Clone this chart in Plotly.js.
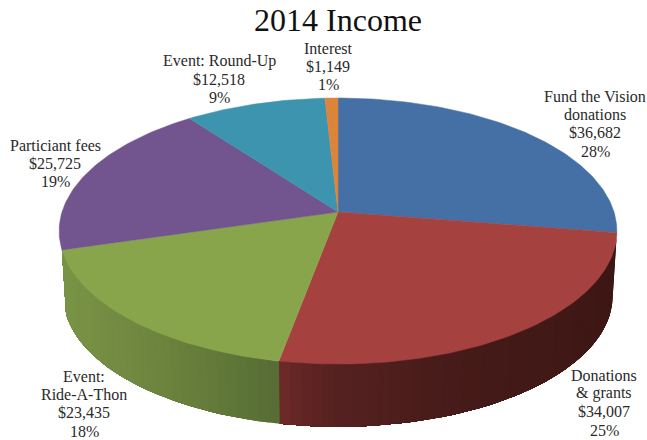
<!DOCTYPE html>
<html><head><meta charset="utf-8">
<script src="https://cdn.plot.ly/plotly-3.0.1.min.js"></script>
<style>html,body{margin:0;padding:0;background:#fff}</style></head>
<body><div id="chart" style="width:647px;height:440px"></div>
<script>
// ---- data ----
const categories = ["Fund the Vision donations","Donations & grants","Event: Ride-A-Thon","Particiant fees","Event: Round-Up","Interest"];
const amounts = [36682,34007,23435,25725,12518,1149];
const topColors = ["#4570a5","#a5423f","#88a54b","#72548f","#3c94ae","#dc843a"];
const labelLines = [
  ["Fund the Vision","donations","$36,682","28%"],
  ["Donations","& grants","$34,007","25%"],
  ["Event:","Ride-A-Thon","$23,435","18%"],
  ["Particiant fees","$25,725","19%"],
  ["Event: Round-Up","$12,518","9%"],
  ["Interest","$1,149","1%"]
];
const labelX = [595,604,84,55,219,328];
const labelY = [96,375,376,145,61,48];
const titleText = "2014 Income";

// ---- style of the drawing ----
const sideStops = {
  1:[[278,"#6f2a28"],[300,"#622524"],[340,"#542120"],[450,"#461b19"],[620,"#3d1714"]],
  2:[[60,"#7a9446"],[170,"#6b823d"],[280,"#566c35"]]
};
const cx=338, cy=212, rx=276, a=130.3, k=0.143, shrink=0.985, drop=65, rad=Math.PI/180;

function project(deg, lower){
  const s=Math.sin(deg*rad), c=Math.cos(deg*rad), d=1+k*c, f=lower?shrink:1;
  return [cx+f*rx*s/d, cy+(lower?drop:0)-f*a*c/d];
}
function hex(c){return [1,3,5].map(i=>parseInt(c.substr(i,2),16));}
function colorAt(stops,x){
  if(x<=stops[0][0])return stops[0][1];
  for(let i=1;i<stops.length;i++){
    if(x<=stops[i][0]){
      const t=(x-stops[i-1][0])/(stops[i][0]-stops[i-1][0]);
      const A=hex(stops[i-1][1]),B=hex(stops[i][1]);
      return "rgb("+A.map((v,j)=>Math.round(v+(B[j]-v)*t)).join(",")+")";
    }
  }
  return stops[stops.length-1][1];
}
const total=amounts.reduce((p,v)=>p+v,0);
let edges=[0];
amounts.forEach((v,i)=>edges.push(edges[i]+v/total*360));

const traces=[];
function poly(xs,ys,color,w){
  traces.push({type:"scatter",mode:"lines",x:xs,y:ys,fill:"toself",fillcolor:color,
    line:{color:color,width:w},hoverinfo:"skip",showlegend:false});
}
// side wall: each band runs to the end of its slice and the next band paints over it, so no seams appear
[1,2].forEach(i=>{
  const from=Math.max(edges[i],88), to=Math.min(edges[i+1],272), n=Math.ceil((to-from)/2);
  for(let j=0;j<n;j++){
    const t0=from+(to-from)*j/n, t1=from+(to-from)*(j+1)/n;
    const up=[],low=[];
    for(let m=j;m<=n;m++){
      const t=from+(to-from)*m/n;
      up.push(project(t,false));low.push(project(t,true));
    }
    const p=up.concat(low.reverse());
    const mid=(project(t0,false)[0]+project(t1,false)[0])/2;
    poly(p.map(q=>q[0]),p.map(q=>q[1]),colorAt(sideStops[i],mid),0);
  }
});
// top face
amounts.forEach((v,i)=>{
  const xs=[cx],ys=[cy],n=Math.ceil((edges[i+1]-edges[i])/1);
  for(let j=0;j<=n;j++){
    const p=project(edges[i]+(edges[i+1]-edges[i])*j/n,false);
    xs.push(p[0]);ys.push(p[1]);
  }
  xs.push(cx);ys.push(cy);
  poly(xs,ys,topColors[i],0.5);
});

const annotations=[];
labelLines.forEach((lines,i)=>lines.forEach((t,j)=>annotations.push({
  x:labelX[i],y:labelY[i]+j*18.4,xref:"x",yref:"y",text:t,showarrow:false,
  xanchor:"center",yanchor:"middle",font:{family:"Liberation Serif",size:16,color:"#2a2a2a"}
})));

Plotly.newPlot("chart",traces,{
  width:647,height:440,margin:{l:0,r:0,t:0,b:0},paper_bgcolor:"#fff",plot_bgcolor:"#fff",
  showlegend:false,
  title:{text:titleText,x:338/647,xanchor:"center",y:1-20/440,yanchor:"middle",
    font:{family:"Liberation Serif",size:32,color:"#111"}},
  xaxis:{range:[0,647],visible:false,fixedrange:true},
  yaxis:{range:[440,0],visible:false,fixedrange:true},
  annotations:annotations
},{displayModeBar:false,staticPlot:true});
</script></body></html>
